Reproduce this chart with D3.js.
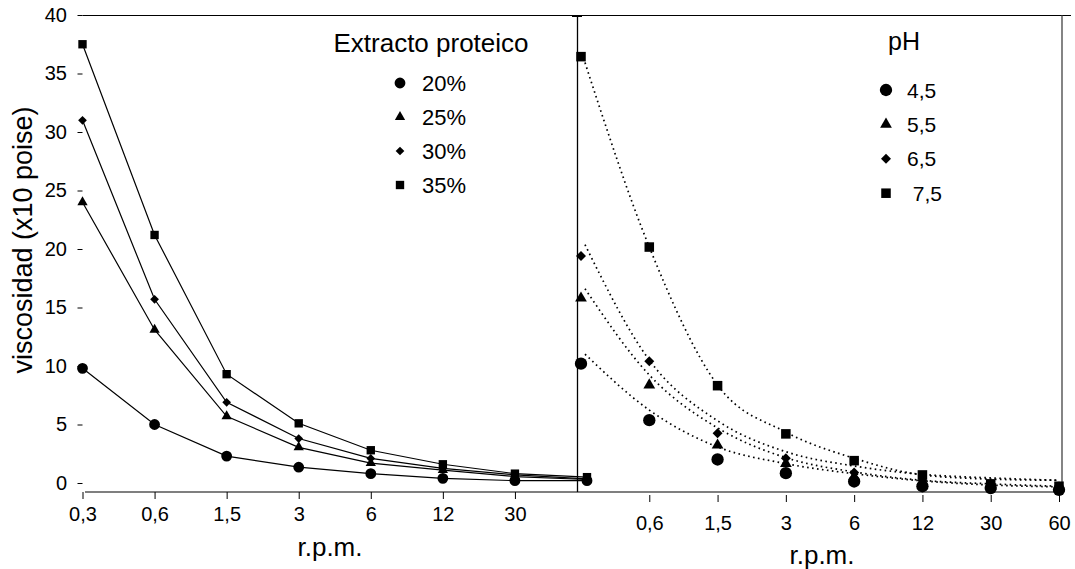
<!DOCTYPE html>
<html>
<head>
<meta charset="utf-8">
<script src="https://cdn.jsdelivr.net/npm/d3@7"></script>
<style>
    body { margin: 0; background: #fff; }
    text { font-family: Arial, "Liberation Sans", sans-serif; fill: #000; }
</style>
</head>
<body>
<div id="chartDiv"></div>
<script>
const chartWidth = 1075;
const chartHeight = 569;

// r.p.m. categories (shared by both panels)
const rpmLabels = ["0,3", "0,6", "1,5", "3", "6", "12", "30", "60"];

// left panel: extracto proteico
const proteinNames = ["20%", "25%", "30%", "35%"];
const protein20 = [9.8, 5.0, 2.3, 1.35, 0.8, 0.4, 0.2, 0.2];
const protein25 = [24.0, 13.1, 5.7, 3.05, 1.7, 1.1, 0.55, 0.3];
const protein30 = [31.0, 15.7, 6.9, 3.8, 2.1, 1.25, 0.7, 0.35];
const protein35 = [37.5, 21.2, 9.3, 5.1, 2.8, 1.6, 0.8, 0.5];

// right panel: pH
const phNames = ["4,5", "5,5", "6,5", " 7,5"];
const ph45 = [10.7, 5.95, 2.65, 1.5, 0.8, 0.4, 0.25, 0.1];
const ph55 = [16.2, 8.9, 3.85, 2.3, 1.2, 0.8, 0.4, 0.25];
const ph65 = [19.75, 10.9, 4.85, 2.75, 1.55, 0.9, 0.5, 0.25];
const ph75 = [36.5, 20.5, 8.85, 4.8, 2.55, 1.35, 0.6, 0.4];

// dotted trend curves of the pH panel
const ph45Trend = [11.5, 6.8, 3.7, 2.3, 1.45, 0.85, 0.5, 0.35];
const ph55Trend = [17.0, 9.75, 5.3, 2.8, 1.6, 0.9, 0.6, 0.4];
const ph65Trend = [20.7, 11.0, 5.9, 3.3, 2.1, 1.4, 1.1, 0.9];
const ph75Trend = [36.0, 20.5, 8.9, 4.95, 2.75, 1.35, 1.0, 0.9];

const yTicks = [0, 5, 10, 15, 20, 25, 30, 35, 40];

var svg, xLeft, xRight, yLeft, yRight

const markerShapes = ["circle", "triangle", "diamond", "square"];

document.addEventListener('DOMContentLoaded', function () {
    svg = d3.select("#chartDiv").append("svg")
        .attr("width", chartWidth)
        .attr("height", chartHeight);

    xLeft = d3.scalePoint().domain(rpmLabels).range([82.5, 587]);
    xRight = d3.scalePoint().domain(rpmLabels).range([581, 1059]);
    yLeft = d3.scaleLinear().domain([0, 40]).range([483, 15]);
    yRight = d3.scaleLinear().domain([0, 40]).range([491, 15]);

    drawFrame()
    drawAxes()

    var leftSeries = [protein20, protein25, protein30, protein35];
    leftSeries.forEach((values, i) => {
        drawSolidSeries(values, markerShapes[i])
    })

    var rightTrends = [ph45Trend, ph55Trend, ph65Trend, ph75Trend];
    rightTrends.forEach(values => {
        drawTrend(values)
    })
    var rightSeries = [ph45, ph55, ph65, ph75];
    rightSeries.forEach((values, i) => {
        drawPoints(values, markerShapes[i])
    })

    addLegends()
})

function symbolPath(shape, big) {
    var k = big ? 1.3 : 1;
    if (shape === "circle") return d3.symbol().type(d3.symbolCircle).size(92 * k)();
    if (shape === "triangle") return d3.symbol().type(d3.symbolTriangle).size(46 * k)();
    if (shape === "diamond") return d3.symbol().type(d3.symbolSquare).size(38 * k)();
    return d3.symbol().type(d3.symbolSquare).size(70 * k)();
}

function placeMarker(sel, shape, x, y, big) {
    sel.append("path")
        .attr("d", symbolPath(shape, big))
        .attr("transform", "translate(" + x + "," + y + ")" + (shape === "diamond" ? " rotate(45)" : ""))
        .style("fill", "black")
}

function drawFrame() {
    // top border across both panels
    svg.append("line")
        .attr("x1", 82.5).attr("x2", 1071)
        .attr("y1", 15.5).attr("y2", 15.5)
        .style("stroke", "black");
    // divider between panels
    svg.append("line")
        .attr("x1", 577.5).attr("x2", 577.5)
        .attr("y1", 15).attr("y2", 492)
        .style("stroke", "black").style("stroke-width", 1.3);
    svg.append("line")
        .attr("x1", 572).attr("x2", 582)
        .attr("y1", 16.5).attr("y2", 16.5)
        .style("stroke", "black");
    // right border
    svg.append("line")
        .attr("x1", 1062).attr("x2", 1062)
        .attr("y1", 15).attr("y2", 482)
        .style("stroke", "#333").style("stroke-width", 1.2);
    // shared bottom axis line
    svg.append("line")
        .attr("x1", 85).attr("x2", 1063)
        .attr("y1", 492).attr("y2", 492)
        .style("stroke", "black").style("stroke-width", 1.2);
}

function drawAxes() {
    var yAxis = svg.append("g")
        .attr("transform", "translate(82.5,0)")
        .call(d3.axisLeft(yLeft).tickValues(yTicks).tickSize(5).tickSizeOuter(0).tickPadding(10.5));
    styleAxis(yAxis, "20px")

    var xAxisLeft = svg.append("g")
        .attr("transform", "translate(0,492)")
        .call(d3.axisBottom(xLeft).tickValues(rpmLabels.slice(0, 7)).tickSize(7).tickPadding(7.5));
    styleAxis(xAxisLeft, "20px")

    var xAxisRight = svg.append("g")
        .attr("transform", "translate(0,492)")
        .call(d3.axisBottom(xRight).tickValues(rpmLabels.slice(1)).tickSize(7).tickPadding(16.5));
    xAxisRight.selectAll(".tick line").attr("y1", 3).attr("y2", 10);
    styleAxis(xAxisRight, "20px")

    svg.append('text')
        .attr('transform', 'translate(32,240) rotate(-90)')
        .attr('text-anchor', 'middle')
        .style('font-size', '27px')
        .text('viscosidad (x10 poise)')

    svg.append('text')
        .attr('x', 330)
        .attr('y', 556)
        .attr('text-anchor', 'middle')
        .style('font-size', '26px')
        .text('r.p.m.')

    svg.append('text')
        .attr('x', 822)
        .attr('y', 564)
        .attr('text-anchor', 'middle')
        .style('font-size', '26px')
        .text('r.p.m.')
}

function styleAxis(g, size) {
    g.select(".domain").remove();
    g.selectAll(".tick line").style("stroke", "black");
    g.selectAll(".tick text")
        .style("font-size", size)
        .style("font-family", "Arial, 'Liberation Sans', sans-serif")
        .attr("fill", "black");
}

function drawSolidSeries(values, shape) {
    var line = d3.line()
        .x((d, i) => xLeft(rpmLabels[i]))
        .y(d => yLeft(d));
    svg.append("path")
        .datum(values)
        .attr("d", line)
        .style("fill", "none")
        .style("stroke", "black")
        .style("stroke-width", 1.2);
    var g = svg.append("g");
    values.forEach((v, i) => {
        placeMarker(g, shape, xLeft(rpmLabels[i]), yLeft(v), false)
    })
}

function drawTrend(values) {
    var line = d3.line()
        .x((d, i) => xRight(rpmLabels[i]) + (i === 0 ? 4 : 0))
        .y(d => yRight(d))
        .curve(d3.curveMonotoneX);
    svg.append("path")
        .datum(values)
        .attr("d", line)
        .style("fill", "none")
        .style("stroke", "black")
        .style("stroke-width", 1.7)
        .style("stroke-dasharray", "1.6,3.4");
}

function drawPoints(values, shape) {
    var g = svg.append("g");
    values.forEach((v, i) => {
        placeMarker(g, shape, xRight(rpmLabels[i]), yRight(v), true)
    })
}

function addLegends() {
    svg.append('text')
        .attr('x', 431)
        .attr('y', 52)
        .attr('text-anchor', 'middle')
        .style('font-size', '26px')
        .text('Extracto proteico')

    var legendY = 83;
    proteinNames.forEach((name, i) => {
        placeMarker(svg, markerShapes[i], 400, legendY + i * 34, false)
        svg.append('text')
            .attr('x', 422)
            .attr('y', legendY + i * 34 + 8)
            .style('font-size', '22px')
            .text(name)
    })

    svg.append('text')
        .attr('x', 904)
        .attr('y', 50)
        .attr('text-anchor', 'middle')
        .style('font-size', '25px')
        .text('pH')

    var phLegendY = 90;
    phNames.forEach((name, i) => {
        placeMarker(svg, markerShapes[i], 886, phLegendY + i * 34.4, true)
        svg.append('text')
            .attr('x', 907)
            .attr('y', phLegendY + i * 34.4 + 7.5)
            .style('font-size', '21px')
            .style('white-space', 'pre')
            .text(name)
    })
}
</script>
</body>
</html>
